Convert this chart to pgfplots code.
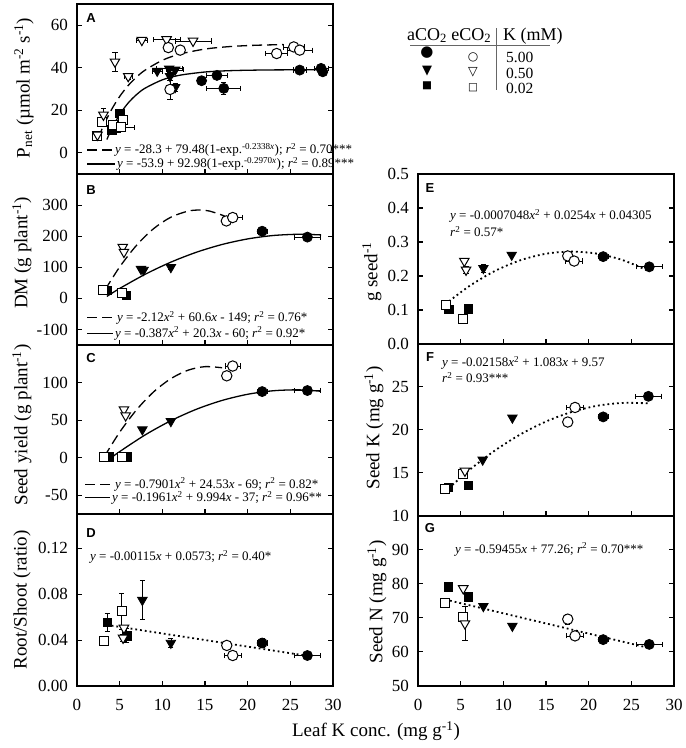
\documentclass[border=0pt]{standalone}
\usepackage{pgfplots}
\pgfplotsset{compat=1.18}
\usepackage{pgfplotstable}
\usepackage{fontspec}
\setmainfont{Liberation Serif}
\newfontfamily\sansbf{Liberation Sans}
\newfontfamily\dejavu{DejaVu Sans}
\newcommand\tlf{\fontsize{17}{17}\selectfont}
\newcommand\lbf{\fontsize{19}{19}\selectfont}
\newcommand\eqf{\fontsize{13}{13}\selectfont}
\newcommand\lgf{\fontsize{18}{18}\selectfont}
\newcommand\lgn{\fontsize{15.5}{15.5}\selectfont}
\newcommand\plf{\sansbf\bfseries\fontsize{13}{13}\selectfont}

% ---------------- Panel A ----------------
\pgfplotstableread{
x y ex ey
14.6 33.9 0 1.5
16.4 36.4 1.2 1.0
17.2 30.3 2.0 3.0
26.1 38.9 0.8 0
28.6 39.7 0.8 0
28.8 38.1 0 0
}\tAfc
\pgfplotstableread{
x y ex ey
10.7 49.5 0 0
12.1 48.3 0 0
10.9 29.8 0 4.5
23.4 46.7 1.3 1.5
25.4 49.8 1.2 1.0
26.1 48.3 1.5 0
}\tAoc
\pgfplotstableread{
x y ex ey
9.4 38.5 0.6 0
10.8 39.5 1.5 0
11.5 39.0 1.0 0
10.9 36.0 0 2
11.5 30.8 0 2
}\tAft
\pgfplotstableread{
x y ex ey
7.6 53.0 0.7 0
4.45 42.8 0 4.5
6.0 36.0 0.5 1.5
10.5 53.3 1.6 0
13.6 52.6 2.1 0
3.1 17.8 0 3
2.4 8.4 0 0
}\tAot
\pgfplotstableread{
x y ex ey
5.0 18.6 0 0
4.07 10.8 0 0
4.6 11.6 0 0
}\tAfs
\pgfplotstableread{
x y ex ey
2.9 14.7 0 0
4.25 13.1 0 0
5.4 15.5 0 0
5.2 11.9 1.5 0
2.3 8.0 0 0
}\tAos
% ---------------- Panel B ----------------
\pgfplotstableread{
x y ex ey
21.7 216 0.6 8
27.0 197 1.55 0
}\tBfc
\pgfplotstableread{
x y ex ey
17.5 249 0 0
18.25 260 1.1 0
}\tBoc
\pgfplotstableread{
x y ex ey
7.5 94 0 5
7.8 91 0 0
11.0 100 0 6
}\tBft
\pgfplotstableread{
x y ex ey
5.36 165 0 0
5.5 149 0 0
}\tBot
\pgfplotstableread{
x y ex ey
3.55 25 0 0
5.8 9 0 0
}\tBfs
\pgfplotstableread{
x y ex ey
3.03 27 0 0
5.24 17.5 0 0
}\tBos
% ---------------- Panel C ----------------
\pgfplotstableread{
x y ex ey
21.7 88 0.6 0
27.0 89.4 1.5 0
}\tCfc
\pgfplotstableread{
x y ex ey
17.55 109 0 0
18.25 122 0.9 0
}\tCoc
\pgfplotstableread{
x y ex ey
7.66 37.4 0 0
11.0 48.5 0 0
}\tCft
\pgfplotstableread{
x y ex ey
5.5 64 0 0
5.7 56 0 0
}\tCot
\pgfplotstableread{
x y ex ey
3.8 1 0 0
5.9 1 0 0
}\tCfs
\pgfplotstableread{
x y ex ey
3.2 0.8 0 0
5.3 0.8 0 0
}\tCos
% ---------------- Panel D ----------------
\pgfplotstableread{
x y ex ey
21.7 0.0375 0.6 0.004
27.0 0.0266 1.5 0
}\tDfc
\pgfplotstableread{
x y ex ey
17.55 0.0354 0 0
18.25 0.0266 1.0 0
}\tDoc
\pgfplotstableread{
x y ex ey
7.66 0.0749 0 0.017
11.0 0.0375 0 0.004
}\tDft
\pgfplotstableread{
x y ex ey
5.5 0.0506 0 0
5.4 0.0419 0 0.003
}\tDot
\pgfplotstableread{
x y ex ey
3.55 0.0556 0 0.008
5.83 0.0439 0 0.006
}\tDfs
\pgfplotstableread{
x y ex ey
3.17 0.0395 0 0
5.24 0.0652 0 0.016
}\tDos
% ---------------- Panel E ----------------
\pgfplotstableread{
x y ex ey
21.7 0.257 0.6 0
27.1 0.227 1.5 0
}\tEfc
\pgfplotstableread{
x y ex ey
17.55 0.259 0 0
18.3 0.244 1.0 0
}\tEoc
\pgfplotstableread{
x y ex ey
7.66 0.223 0 0.012
10.98 0.262 0 0
}\tEft
\pgfplotstableread{
x y ex ey
5.43 0.244 0 0
5.63 0.218 0 0.01
}\tEot
\pgfplotstableread{
x y ex ey
3.63 0.102 0 0
5.9 0.103 0 0
}\tEfs
\pgfplotstableread{
x y ex ey
3.28 0.1147 0 0
5.3 0.0726 0 0
}\tEos
% ---------------- Panel F ----------------
\pgfplotstableread{
x y ex ey
21.7 21.5 0.6 0
27.0 23.9 1.5 0
}\tFfc
\pgfplotstableread{
x y ex ey
17.55 20.9 0 0
18.4 22.6 1.0 0
}\tFoc
\pgfplotstableread{
x y ex ey
7.58 16.5 0 0
11.06 21.4 0 0
}\tFft
\pgfplotstableread{
x y ex ey
5.5 15.2 0 0
}\tFot
\pgfplotstableread{
x y ex ey
3.55 13.3 0 0
5.9 13.5 0 0
}\tFfs
\pgfplotstableread{
x y ex ey
3.17 13.09 0 0
5.3 14.8 0 0
}\tFos
% ---------------- Panel G ----------------
\pgfplotstableread{
x y ex ey
21.7 63.6 0.6 0
27.1 62.2 1.5 0
}\tGfc
\pgfplotstableread{
x y ex ey
17.55 69.6 0 1.5
18.4 64.7 1.0 0
}\tGoc
\pgfplotstableread{
x y ex ey
7.66 73.4 0 0
11.06 67.6 0 0
}\tGft
\pgfplotstableread{
x y ex ey
5.3 78.6 0 0
5.5 68.3 0 5
}\tGot
\pgfplotstableread{
x y ex ey
3.55 79.0 0 0
5.9 76.1 0 0
}\tGfs
\pgfplotstableread{
x y ex ey
3.2 74.2 0 1
5.24 70.1 0 0
}\tGos

\pgfplotsset{
 panel/.style={scale only axis, width=256pt, anchor=north west,
   xmin=0, xmax=30, xtick={0,5,...,30}, xticklabels={},
   tick align=inside, xtick pos=left, ytick pos=both, yticklabel pos=left,
   axis line style={line width=2pt}, major tick length=5pt,
   every tick/.style={black, line width=1.1pt},
   tick label style={font=\tlf}, scaled y ticks=false,
   yticklabel style={inner sep=0pt, xshift=-9pt},
   xticklabel style={inner sep=0pt, yshift=-13pt},
   /pgf/number format/assume math mode=true, clip=false},
 xlab/.style={xticklabels={0,5,10,15,20,25,30}},
 EB/.style={only marks, mark=none, forget plot, error bars/.cd, x dir=both, x explicit,
   y dir=both, y explicit, error bar style={black, line width=0.7pt},
   error mark options={rotate=90, black, mark size=2.6pt, line width=0.7pt}},
 FC/.style={only marks, mark=*, mark size=5pt, mark options={draw=black, fill=black, line width=0.8pt}},
 OC/.style={only marks, mark=*, mark size=5.2pt, mark options={draw=black, fill=white, line width=1pt}},
 FT/.style={only marks, mark=triangle*, mark size=5.5pt, mark options={rotate=180, draw=black, fill=black, line width=0.8pt}},
 OT/.style={only marks, mark=triangle*, mark size=5.5pt, mark options={rotate=180, draw=black, fill=white, line width=1pt}},
 FS/.style={only marks, mark=square*, mark size=4.3pt, mark options={draw=black, fill=black, line width=0.8pt}},
 OS/.style={only marks, mark=square*, mark size=4.5pt, mark options={draw=black, fill=white, line width=1pt}},
 dsh/.style={black, line width=1.3pt, dash pattern=on 10pt off 5pt, smooth, mark=none},
 sld/.style={black, line width=1.3pt, smooth, mark=none},
 dtt/.style={black, line width=1.8pt, dash pattern=on 1.8pt off 3pt, smooth, mark=none},
}
\newcommand\series[2]{%
 \addplot[EB] table[x=x,y=y,x error=ex,y error=ey]{#2};
 \addplot[#1] table[x=x,y=y]{#2};}
\newcommand\allseries[6]{%
 \series{FS}{#5}\series{OS}{#6}\series{FT}{#3}\series{OT}{#4}\series{FC}{#1}\series{OC}{#2}}

\begin{document}
\begin{tikzpicture}
\useasboundingbox (0,0) rectangle (686pt,-748pt);

% ===== A =====
\begin{axis}[panel, at={(77pt,-4pt)}, height=170pt, ymin=-10, ymax=70, ytick={0,20,40,60}]
\addplot[dsh] coordinates {(2.5,6.88) (3,11.77) (4,19.98) (5,26.49) (6,31.64) (7,35.71) (8,38.93) (10,43.51) (12,46.37) (15,48.80) (18,50.0) (21,50.59) (24.2,50.9)};
\addplot[sld] coordinates {(3.5,6.2) (4,10.74) (5,18.02) (6,23.43) (7,27.45) (8,30.44) (10,34.31) (12,36.45) (15,38.0) (18,38.64) (22,38.95) (26,39.04) (29.3,39.07)};
\allseries{\tAfc}{\tAoc}{\tAft}{\tAot}{\tAfs}{\tAos}
\end{axis}

% ===== B =====
\begin{axis}[panel, at={(77pt,-174pt)}, height=171pt, ymin=-150, ymax=400, ytick={-100,0,100,200,300}]
\addplot[dsh] coordinates {(3.3,27.9) (5,101) (7,171.3) (9,224.7) (11,261.1) (13,280.5) (14.3,284.1) (15.5,281.0) (17.3,264.9)};
\addplot[sld] coordinates {(3.5,6.3) (5,31.8) (8,77.6) (11,116.5) (14,148.4) (17,173.3) (20,191.2) (23,202.2) (26,206.2) (28.6,204.1)};
\allseries{\tBfc}{\tBoc}{\tBft}{\tBot}{\tBfs}{\tBos}
\end{axis}

% ===== C =====
\begin{axis}[panel, at={(77pt,-345pt)}, height=169pt, ymin=-75, ymax=150, ytick={-50,0,50,100}]
\addplot[dsh] coordinates {(3.2,1.4) (5,33.9) (7,64.0) (9,87.8) (11,105.2) (13,116.4) (15,121.2) (17,119.7)};
\addplot[sld] coordinates {(3.9,-1.0) (5,8.07) (8,30.4) (11,49.2) (14,64.5) (17,76.2) (20,84.4) (23,89.1) (26,90.3) (28.5,88.5)};
\allseries{\tCfc}{\tCoc}{\tCft}{\tCot}{\tCfs}{\tCos}
\end{axis}

% ===== D =====
\begin{axis}[panel, xlab, at={(77pt,-514pt)}, height=172pt, ymin=0, ymax=0.15, ytick={0,0.04,0.08,0.12},
  yticklabel style={/pgf/number format/fixed, /pgf/number format/fixed zerofill, /pgf/number format/precision=2}]
\addplot[dtt] coordinates {(3.5,0.0533) (27,0.0263)};
\allseries{\tDfc}{\tDoc}{\tDft}{\tDot}{\tDfs}{\tDos}
\end{axis}

% ===== E =====
\begin{axis}[panel, at={(418pt,-174pt)}, height=170pt, ymin=0, ymax=0.5, ytick={0,0.1,0.2,0.3,0.4,0.5},
  yticklabel style={/pgf/number format/fixed, /pgf/number format/fixed zerofill, /pgf/number format/precision=1}]
\addplot[dtt] coordinates {(3.2,0.1171) (6,0.1701) (9,0.2146) (12,0.2464) (15,0.2655) (18,0.2719) (21,0.2656) (24,0.2467) (27,0.2150)};
\allseries{\tEfc}{\tEoc}{\tEft}{\tEot}{\tEfs}{\tEos}
\end{axis}

% ===== F =====
\begin{axis}[panel, at={(418pt,-344pt)}, height=171.5pt, ymin=10, ymax=30, ytick={10,15,20,25}]
\addplot[dtt] coordinates {(3.2,12.81) (6,15.29) (9,17.57) (12,19.46) (15,20.96) (18,22.07) (21,22.80) (24,23.13) (27,23.08)};
\allseries{\tFfc}{\tFoc}{\tFft}{\tFot}{\tFfs}{\tFos}
\end{axis}

% ===== G =====
\begin{axis}[panel, xlab, at={(418pt,-515.5pt)}, height=170.5pt, ymin=50, ymax=100, ytick={50,60,70,80,90}]
\addplot[dtt] coordinates {(3.2,75.36) (27,61.21)};
\allseries{\tGfc}{\tGoc}{\tGft}{\tGot}{\tGfs}{\tGos}
\end{axis}

% ===== panel letters =====
\begin{scope}[every node/.style={font=\plf, inner sep=0pt}]
\node at (91pt,-18pt) {A};
\node at (91pt,-190pt) {B};
\node at (91pt,-358pt) {C};
\node at (91pt,-533pt) {D};
\node at (430pt,-188pt) {E};
\node at (430pt,-357pt) {F};
\node at (430pt,-528pt) {G};
\end{scope}

% ===== axis labels =====
\begin{scope}[every node/.style={font=\lbf, inner sep=0pt}]
\node[rotate=90] at (24pt,-88pt) {P\textsubscript{net} (µmol m\textsuperscript{-2} s\textsuperscript{-1})};
\node[rotate=90] at (22pt,-253pt) {DM (g plant\textsuperscript{-1})};
\node[rotate=90] at (22pt,-425pt) {Seed yield (g plant\textsuperscript{-1})};
\node[rotate=90] at (22pt,-600pt) {Root/Shoot (ratio)};
\node[rotate=90] at (372pt,-272pt) {g seed\textsuperscript{-1}};
\node[rotate=90] at (374pt,-428pt) {Seed K (mg g\textsuperscript{-1})};
\node[rotate=90] at (377pt,-602pt) {Seed N (mg g\textsuperscript{-1})};
\node at (376pt,-731pt) {Leaf K conc. (mg g\textsuperscript{-1})};
\end{scope}

% ===== equations =====
\begin{scope}[every node/.style={font=\eqf, inner sep=0pt, anchor=west}]
\draw[black, line width=1.3pt, dash pattern=on 10pt off 5pt] (87pt,-150pt) -- (113pt,-150pt);
\node at (115pt,-150pt) {\textit{y} = -28.3 + 79.48(1-exp.\textsuperscript{-0.2338\textit{x}}); \textit{r}\textsuperscript{2} = 0.70***};
\draw[black, line width=1.3pt] (87pt,-164pt) -- (115pt,-164pt);
\node at (117pt,-164pt) {\textit{y} = -53.9 + 92.98(1-exp.\textsuperscript{-0.2970\textit{x}}); \textit{r}\textsuperscript{2} = 0.89***};
\draw[black, line width=1.3pt, dash pattern=on 10pt off 5pt] (87pt,-317.7pt) -- (113pt,-317.7pt);
\node at (117pt,-317.7pt) {\textit{y} = -2.12\textit{x}\textsuperscript{2} + 60.6\textit{x} - 149; \textit{r}\textsuperscript{2} = 0.76*};
\draw[black, line width=1.3pt] (87pt,-333.3pt) -- (113pt,-333.3pt);
\node at (115pt,-333.3pt) {\textit{y} = -0.387\textit{x}\textsuperscript{2} + 20.3\textit{x} - 60; \textit{r}\textsuperscript{2} = 0.92*};
\draw[black, line width=1.3pt, dash pattern=on 10pt off 5pt] (85pt,-484.3pt) -- (112pt,-484.3pt);
\node at (115pt,-484.3pt) {\textit{y} = -0.7901\textit{x}\textsuperscript{2} + 24.53\textit{x} - 69; \textit{r}\textsuperscript{2} = 0.82*};
\draw[black, line width=1.3pt] (85pt,-497.7pt) -- (110pt,-497.7pt);
\node at (112pt,-497.7pt) {\textit{y} = -0.1961\textit{x}\textsuperscript{2} + 9.994\textit{x} - 37; \textit{r}\textsuperscript{2} = 0.96**};
\node at (90pt,-556.7pt) {\textit{y} = -0.00115\textit{x} + 0.0573; \textit{r}\textsuperscript{2} = 0.40*};
\node at (450pt,-216pt) {\textit{y} = -0.0007048\textit{x}\textsuperscript{2} + 0.0254\textit{x} + 0.04305};
\node at (450pt,-231.7pt) {\textit{r}\textsuperscript{2} = 0.57*};
\node at (442pt,-363pt) {\textit{y} = -0.02158\textit{x}\textsuperscript{2} + 1.083\textit{x} + 9.57};
\node at (442pt,-377.5pt) {\textit{r}\textsuperscript{2} = 0.93***};
\node at (455pt,-549.3pt) {\textit{y} = -0.59455\textit{x} + 77.26; \textit{r}\textsuperscript{2} = 0.70***};
\end{scope}

% ===== legend =====
\begin{scope}[every node/.style={font=\lgf, inner sep=0pt}]
\node[anchor=base west] at (407pt,-40pt) {aCO\textsubscript{2} eCO\textsubscript{2}};
\node[anchor=base west] at (503pt,-40pt) {K (mM)};
\end{scope}
\begin{scope}[every node/.style={font=\lgn, inner sep=0pt}]
\node[anchor=base west] at (506pt,-62.5pt) {5.00};
\node[anchor=base west] at (506pt,-78pt) {0.50};
\node[anchor=base west] at (506pt,-93.5pt) {0.02};
\end{scope}
\draw[line width=0.9pt, black!60] (410pt,-45.7pt) -- (550pt,-45.7pt);
\draw[line width=0.9pt, black!60] (496.7pt,-28pt) -- (496.7pt,-90pt);
\begin{scope}[every node/.style={inner sep=0pt}]
\node[font=\dejavu\fontsize{15}{15}\selectfont] at (427pt,-53pt) {●};
\node[font=\dejavu\fontsize{13}{13}\selectfont] at (427pt,-71pt) {▼};
\node[font=\dejavu\fontsize{10.5}{10.5}\selectfont] at (427pt,-86pt) {■};
\node[font=\dejavu\fontsize{12}{12}\selectfont] at (473pt,-57pt) {○};
\node[font=\dejavu\fontsize{12.5}{12.5}\selectfont] at (473pt,-72pt) {▽};
\node[font=\dejavu\fontsize{10.5}{10.5}\selectfont] at (473pt,-88pt) {□};
\end{scope}
\end{tikzpicture}
\end{document}
